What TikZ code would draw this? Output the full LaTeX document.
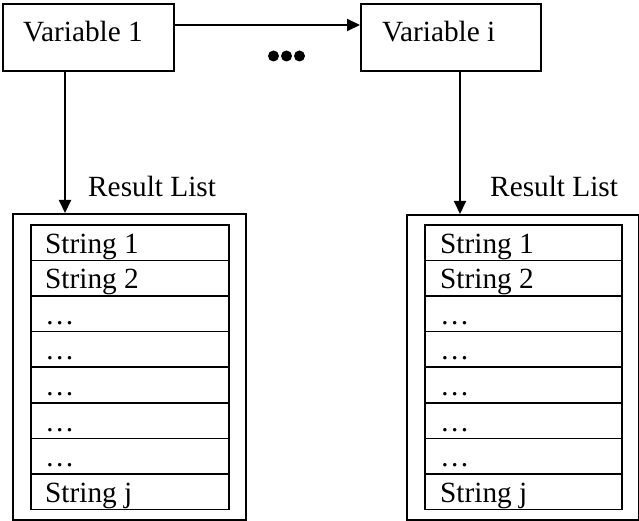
\documentclass[tikz,border=0pt]{standalone}
\usepackage{fontspec}
\setmainfont{Liberation Serif}
\usetikzlibrary{arrows.meta}
\begin{document}
\begin{tikzpicture}[x=1pt,y=-1pt,
  font=\fontsize{29.3}{32}\selectfont,
  box/.style={draw, line width=2pt, inner sep=0pt, anchor=north west},
  cell/.style={draw, line width=1.6pt, inner sep=0pt, anchor=north west,
    minimum height=35.6pt},
  arr/.style={line width=2pt, -{Triangle[length=13pt,width=12pt]}},
  lbl/.style={anchor=base west, inner sep=0pt},
  dot/.style={circle, fill, inner sep=0pt, minimum size=11pt}]
\useasboundingbox (0,0) rectangle (639,521);

% variable boxes
\node[box, minimum width=171pt, minimum height=67pt] (v1) at (2,3) {};
\node[lbl] (v1t) at (23,42) {Variable 1};
\node[box, minimum width=180pt, minimum height=67pt] (vi) at (360,3) {};
\node[lbl] (vit) at (382,42) {Variable i};

% ellipsis between the variables
\node[dot] (d1) at (273.5,56) {};
\node[dot] (d2) at (286.5,56) {};
\node[dot] (d3) at (299.5,56) {};

% result list frames
\node[box, minimum width=233pt, minimum height=306pt] (lo) at (12,213) {};
\node[box, minimum width=232pt, minimum height=305pt] (ro) at (406,214) {};
\node[lbl] (ll) at (88,197) {Result List};
\node[lbl] (rl) at (490,197) {Result List};

% list rows
\foreach \t [count=\k from 0] in {String 1,String 2,…,…,…,…,…,String j}{
  \node[cell, minimum width=198pt] (lr\k) at (30,224+35.6*\k) {};
  \node[lbl] at (45,253+35.6*\k) {\t};
  \node[cell, minimum width=197pt] (rr\k) at (424,224+35.6*\k) {};
  \node[lbl] at (440,253+35.6*\k) {\t};
}

% connectors
\draw[arr] ([yshift=-22pt]v1.north east) -- ([yshift=-22pt]vi.north west);
\draw[arr] ([xshift=63pt]v1.south west) -- ([xshift=63pt]v1.south west |- lo.north);
\draw[arr] ([xshift=100pt]vi.south west) -- ([xshift=100pt]vi.south west |- ro.north);
\end{tikzpicture}
\end{document}
